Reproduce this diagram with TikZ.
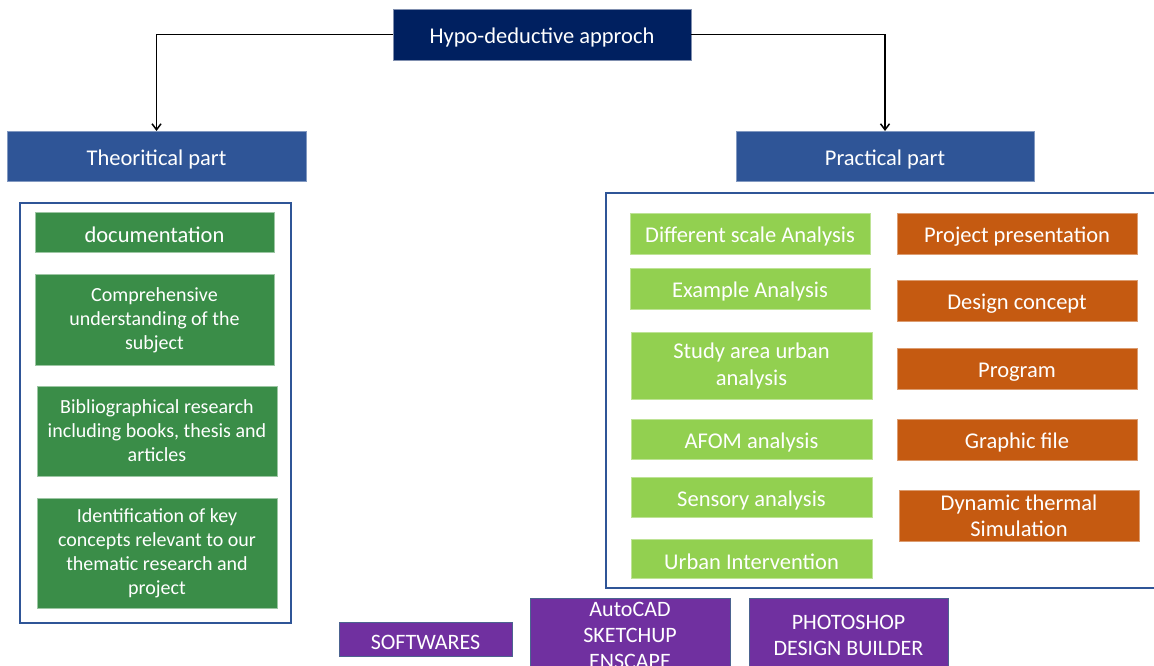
\documentclass[tikz,border=0pt]{standalone}
\usepackage{fontspec}
\setmainfont{Carlito}
\usetikzlibrary{arrows.meta}
\definecolor{navy}{HTML}{002060}
\definecolor{hdrblue}{HTML}{2F5597}
\definecolor{dgreen}{HTML}{3A8D48}
\definecolor{lgreen}{HTML}{92D050}
\definecolor{orangebox}{HTML}{C55A11}
\definecolor{purplebox}{HTML}{7030A0}
\tikzset{
  basebox/.style={rectangle, inner sep=0pt, outer sep=0pt, text=white, align=center,
    execute at begin node={\rule{0pt}{0.98em}}},
  hdrbox/.style={basebox, fill=hdrblue, draw=hdrblue!60, line width=0.5pt, font=\fontsize{22.5}{26}\selectfont},
  topbox/.style={basebox, fill=navy, draw=navy!50, line width=0.5pt, font=\fontsize{22.5}{26}\selectfont},
  dgbox/.style={basebox, fill=dgreen, draw=dgreen!50, line width=0.7pt, font=\fontsize{20}{24}\selectfont},
  lgbox/.style={basebox, fill=lgreen, draw=lgreen!60, line width=0.7pt, font=\fontsize{22.5}{27}\selectfont},
  orbox/.style={basebox, fill=orangebox, draw=orangebox!60, line width=0.7pt, font=\fontsize{22.5}{26}\selectfont},
  pubox/.style={basebox, fill=purplebox, draw=navy!70, line width=1pt, font=\fontsize{22}{26}\selectfont},
  frame/.style={draw=hdrblue, line width=2pt},
  conn/.style={draw=black, line width=1.5pt, -{Straight Barb[length=6pt,width=9pt]}}
}
\begin{document}
\begin{tikzpicture}[x=1pt,y=-1pt]
\useasboundingbox (0,0) rectangle (1154,666);
\clip (0,0) rectangle (1154,666);
\fill[white] (0,0) rectangle (1154,666);
% top
\node[topbox, minimum width=298pt, minimum height=51pt] (hypo) at (542,34.5) {Hypo-deductive approch};
\node[hdrbox, minimum width=299pt, minimum height=50pt] (theo) at (156.5,156) {Theoritical part};
\node[hdrbox, minimum width=298pt, minimum height=50pt] (prac) at (885,156) {Practical part};
\draw[conn] (hypo.west) -| (theo.north);
\draw[conn] (hypo.east) -| (prac.north);
% frames
\draw[frame] (20,203) rectangle (291,623);
\draw[frame] (1170,193) -- (606,193) -- (606,588) -- (1170,588);
% left column
\node[dgbox, minimum width=239pt, minimum height=40pt, font=\fontsize{22.5}{24}\selectfont] (doc) at (154.5,232) {documentation};
\node[dgbox, minimum width=239pt, minimum height=91pt] (comp) at (154.5,320) {Comprehensive\\understanding of the\\subject};
\node[dgbox, minimum width=240pt, minimum height=90pt] (bib) at (157,431) {Bibliographical research\\including books, thesis and\\articles};
\node[dgbox, minimum width=240pt, minimum height=110pt] (ident) at (157,553) {Identification of key\\concepts relevant to our\\thematic research and\\project};
% practical: green
\node[lgbox, minimum width=240pt, minimum height=41pt] (diff) at (750,233.5) {Different scale Analysis};
\node[lgbox, minimum width=240pt, minimum height=41pt] (ex) at (750,288.5) {Example Analysis};
\node[lgbox, minimum width=241pt, minimum height=67pt] (study) at (751.5,366) {Study area urban\\analysis};
\node[lgbox, minimum width=241pt, minimum height=40pt] (afom) at (751.5,439) {AFOM analysis};
\node[lgbox, minimum width=241pt, minimum height=40pt] (sens) at (751.5,497) {Sensory analysis};
\node[lgbox, minimum width=241pt, minimum height=39pt] (urb) at (751.5,558.5) {Urban Intervention};
% practical: orange
\node[orbox, minimum width=240pt, minimum height=41pt] (proj) at (1017,233.5) {Project presentation};
\node[orbox, minimum width=240pt, minimum height=41pt] (des) at (1017,300.5) {Design concept};
\node[orbox, minimum width=240pt, minimum height=41pt] (prog) at (1017,368.5) {Program};
\node[orbox, minimum width=240pt, minimum height=41pt] (graph) at (1017,439.5) {Graphic file};
\node[orbox, minimum width=240pt, minimum height=51pt] (dyn) at (1019,516) {Dynamic thermal\\Simulation};
% purple
\node[pubox, minimum width=173pt, minimum height=34pt] (soft) at (425.5,639) {SOFTWARES};
\node[pubox, minimum width=200pt, minimum height=90pt, anchor=north] (auto) at (630,598) {};
\node[basebox, font=\fontsize{22}{26}\selectfont] (autot) at (630,635) {AutoCAD\\SKETCHUP\\ENSCAPE};
\node[pubox, minimum width=199pt, minimum height=90pt, anchor=north] (photo) at (848.5,598) {};
\node[basebox, font=\fontsize{22}{26}\selectfont] (photot) at (848.5,635) {PHOTOSHOP\\DESIGN BUILDER};
\end{tikzpicture}
\end{document}
